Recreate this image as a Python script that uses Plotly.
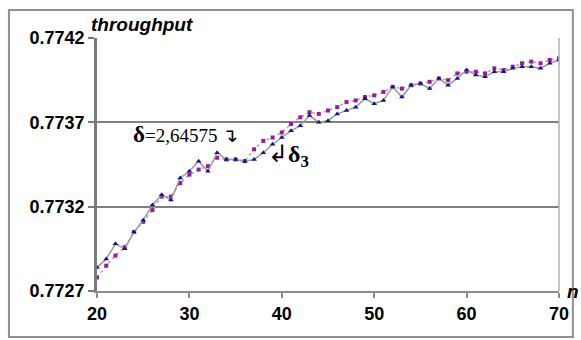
import plotly.graph_objects as go

n_values = list(range(20, 71))

throughput_delta3 = [
    0.77284, 0.77289, 0.77298, 0.77295, 0.77305, 0.77312, 0.77321, 0.77327, 0.77324, 0.77337,
    0.77341, 0.77347, 0.77341, 0.77352, 0.77348, 0.77348, 0.77347, 0.77348, 0.77352, 0.77357,
    0.77361, 0.77365, 0.77368, 0.77374, 0.77370, 0.77371, 0.77375, 0.77377, 0.77379, 0.77384,
    0.77381, 0.77383, 0.77391, 0.77385, 0.77392, 0.77393, 0.77390, 0.77396, 0.77392, 0.77396,
    0.77401, 0.77398, 0.77397, 0.77400, 0.77400, 0.77402, 0.77403, 0.77403, 0.77402, 0.77405,
    0.77407,
]

throughput_delta = [
    0.77278, 0.77285, 0.77291, 0.77296, 0.77305, 0.77311, 0.77318, 0.77326, 0.77326, 0.77334,
    0.77339, 0.77342, 0.77344, 0.77349, 0.77348, 0.77348, 0.77347, 0.77354, 0.77359, 0.77361,
    0.77364, 0.77369, 0.77373, 0.77376, 0.77375, 0.77377, 0.77379, 0.77382, 0.77383, 0.77385,
    0.77386, 0.77388, 0.77391, 0.77390, 0.77392, 0.77393, 0.77394, 0.77396, 0.77395, 0.77399,
    0.77400, 0.77400, 0.77399, 0.77402, 0.77401, 0.77403, 0.77405, 0.77406, 0.77405, 0.77407,
    0.77408,
]

x_ticks = [20, 30, 40, 50, 60, 70]
y_ticks = [0.7727, 0.7732, 0.7737, 0.7742]
y_tick_labels = ["0.7727", "0.7732", "0.7737", "0.7742"]

W, H = 581, 340
L, R, T, B = 97, 17, 38, 49
PW, PH = W - L - R, H - T - B


def px(x):
    return (x - L) / PW


def py(y):
    return (H - B - y) / PH


fig = go.Figure()

fig.add_trace(go.Scatter(
    x=n_values, y=throughput_delta, mode="lines+markers",
    line=dict(color="#a8a8a8", width=1.5, dash="dot"),
    marker=dict(symbol="square", size=4, color="#9a1a9a"),
    showlegend=False,
))
fig.add_trace(go.Scatter(
    x=n_values, y=throughput_delta3, mode="lines+markers",
    line=dict(color="#9a9a9a", width=1.5),
    marker=dict(symbol="triangle-up", size=5, color="#14148c"),
    showlegend=False,
))

font_main = "Liberation Sans, Arial, sans-serif"
serif = "Liberation Serif, Times New Roman, serif"

fig.update_layout(
    width=W, height=H,
    margin=dict(l=L, r=R, t=T, b=B),
    paper_bgcolor="white", plot_bgcolor="white",
    xaxis=dict(
        range=[20, 70], tickvals=x_ticks, showgrid=False, zeroline=False,
        showline=True, linecolor="#8c8c8c", linewidth=2,
        ticks="outside", ticklen=5, tickcolor="#8c8c8c", tickwidth=2,
        tickfont=dict(family=font_main, size=18, color="black", weight="bold"),
    ),
    yaxis=dict(
        range=[0.7727, 0.7742], tickvals=y_ticks, ticktext=y_tick_labels,
        showgrid=True, gridcolor="#808080", gridwidth=1.8, zeroline=False,
        showline=True, linecolor="#7a7a7a", linewidth=2.5,
        ticks="outside", ticklen=6, tickcolor="#7a7a7a", tickwidth=2,
        tickfont=dict(family=font_main, size=18, color="black", weight="bold"),
    ),
    shapes=[
        dict(type="line", xref="paper", yref="paper", x0=1, x1=1, y0=0, y1=1,
             line=dict(color="#b0b0b0", width=1.5)),
        dict(type="rect", xref="paper", yref="paper",
             x0=px(8), x1=px(578), y0=py(337), y1=py(10),
             line=dict(color="#909090", width=2)),
    ],
    annotations=[
        dict(text="<b><i>throughput</i></b>", xref="paper", yref="paper",
             x=px(89), y=py(24), xanchor="left", yanchor="middle", showarrow=False,
             font=dict(family=font_main, size=19, color="black")),
        dict(text="<b><i>n</i></b>", xref="paper", yref="paper",
             x=px(570), y=py(291), xanchor="left", yanchor="middle", showarrow=False,
             font=dict(family=font_main, size=19, color="black")),
        dict(text="<b>δ</b><span style='font-size:19px'>=2,64575 ↴</span>",
             xref="paper", yref="paper",
             x=px(131), y=py(134), xanchor="left", yanchor="middle", showarrow=False,
             font=dict(family=serif, size=23, color="black")),
        dict(text="↲<b>δ<sub>3</sub></b>",
             xref="paper", yref="paper",
             x=px(268), y=py(156), xanchor="left", yanchor="middle", showarrow=False,
             font=dict(family=serif, size=24, color="black")),
    ],
)

fig.write_html("out.html")
